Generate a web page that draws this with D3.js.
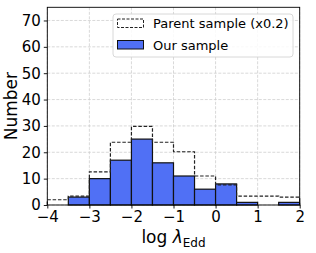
<!DOCTYPE html>
<html>
<head>
<meta charset="utf-8">
<script src="https://cdn.jsdelivr.net/npm/d3@7"></script>
<style>
  body { margin: 0; background: #fff; }
  svg { font-family: "DejaVu Sans", sans-serif; }
</style>
</head>
<body>
<svg id="canvas" width="316" height="253"></svg>
<script>
// histogram bins (log lambda_Edd), width 0.5
const binEdges = [-4, -3.5, -3, -2.5, -2, -1.5, -1, -0.5, 0, 0.5, 1, 1.5, 2];
const ourSample = [0, 3, 10, 17, 25, 16, 11, 6, 8, 1, 0, 1];
const parentSample = [2, 3.4, 12.6, 23.8, 29.8, 23.8, 20.2, 11, 7.6, 3.4, 3.4, 3];
const xTicks = [-4, -3, -2, -1, 0, 1, 2];
const yTicks = [0, 10, 20, 30, 40, 50, 60, 70];
const legendLabels = ["Parent sample (x0.2)", "Our sample"];

const pLeft = 47.3, pRight = 299.7, pTop = 7.3, pBottom = 205;
let canvas = d3.select("#canvas");

let x = d3.scaleLinear().domain([-4, 2]).range([pLeft, pRight]);
let y = d3.scaleLinear().domain([0, 75]).range([pBottom, pTop]);

const fmt = (d) => String(d).replace("-", "\u2212");

// grid
let grid = canvas.append("g");
grid.selectAll(".gx")
    .data(xTicks)
    .enter()
    .append("line")
    .attr("x1", (d) => x(d)).attr("x2", (d) => x(d))
    .attr("y1", pTop).attr("y2", pBottom)
    .attr("stroke", "#cfcfcf").attr("stroke-width", 0.8)
    .attr("stroke-dasharray", "3,1.5");
grid.selectAll(".gy")
    .data(yTicks)
    .enter()
    .append("line")
    .attr("x1", pLeft).attr("x2", pRight)
    .attr("y1", (d) => y(d)).attr("y2", (d) => y(d))
    .attr("stroke", "#cfcfcf").attr("stroke-width", 0.8)
    .attr("stroke-dasharray", "3,1.5");

// our sample bars
canvas.selectAll(".bar")
    .data(ourSample)
    .enter()
    .append("rect")
    .attr("x", (d, i) => x(binEdges[i]))
    .attr("width", (d, i) => x(binEdges[i + 1]) - x(binEdges[i]))
    .attr("y", (d) => y(d))
    .attr("height", (d) => y(0) - y(d))
    .attr("fill", "#5070f5")
    .attr("stroke", "#111")
    .attr("stroke-width", 1.2);

// parent sample step outline
let stepPts = [[binEdges[0], 0]];
parentSample.forEach((v, i) => stepPts.push([binEdges[i], v]));
stepPts.push([binEdges[binEdges.length - 1], parentSample[parentSample.length - 1]]);
stepPts.push([binEdges[binEdges.length - 1], 0]);
canvas.append("path")
    .attr("d", d3.line().x((d) => x(d[0])).y((d) => y(d[1])).curve(d3.curveStepAfter)(stepPts))
    .attr("fill", "none")
    .attr("stroke", "#222")
    .attr("stroke-width", 1.2)
    .attr("stroke-dasharray", "3.5,1.8");

// axes
let xAxis = canvas.append("g")
    .attr("transform", `translate(0,${pBottom})`)
    .call(d3.axisBottom(x).tickValues(xTicks).tickFormat(fmt).tickSize(3.5).tickPadding(3));
let yAxis = canvas.append("g")
    .attr("transform", `translate(${pLeft},0)`)
    .call(d3.axisLeft(y).tickValues(yTicks).tickFormat(fmt).tickSize(3.5).tickPadding(3));
[xAxis, yAxis].forEach((a) => {
    a.select(".domain").remove();
    a.selectAll("text").attr("font-size", 15).attr("fill", "#000")
        .attr("font-family", "DejaVu Sans");
    a.selectAll("line").attr("stroke", "#000").attr("stroke-width", 0.9);
});

// frame
canvas.append("rect")
    .attr("x", pLeft).attr("y", pTop)
    .attr("width", pRight - pLeft).attr("height", pBottom - pTop)
    .attr("fill", "none").attr("stroke", "#000").attr("stroke-width", 0.9);

// labels
canvas.append("text")
    .attr("x", (pLeft + pRight) / 2).attr("y", 243)
    .attr("text-anchor", "middle").attr("font-size", 17)
    .html('log <tspan font-style="italic">\u03bb</tspan><tspan font-size="12" dy="4">Edd</tspan>');
canvas.append("text")
    .attr("transform", `translate(17,${(pTop + pBottom) / 2}) rotate(-90)`)
    .attr("text-anchor", "middle").attr("font-size", 17)
    .text("Number");

// legend
let legend = canvas.append("g");
legend.append("rect")
    .attr("x", 113).attr("y", 14).attr("width", 180).attr("height", 43)
    .attr("rx", 3).attr("fill", "#fff").attr("fill-opacity", 0.85)
    .attr("stroke", "#d4d4d4").attr("stroke-width", 0.9);
legend.append("rect")
    .attr("x", 117.5).attr("y", 19).attr("width", 26).attr("height", 8.5)
    .attr("fill", "none").attr("stroke", "#222").attr("stroke-width", 1)
    .attr("stroke-dasharray", "3,1.5");
legend.append("rect")
    .attr("x", 117.5).attr("y", 40.5).attr("width", 26).attr("height", 8.5)
    .attr("fill", "#5070f5").attr("stroke", "#111").attr("stroke-width", 1);
legend.selectAll(".lt")
    .data(legendLabels)
    .enter()
    .append("text")
    .attr("x", 153).attr("y", (d, i) => 28 + i * 21.5)
    .attr("font-size", 13)
    .text((d) => d);
</script>
</body>
</html>
